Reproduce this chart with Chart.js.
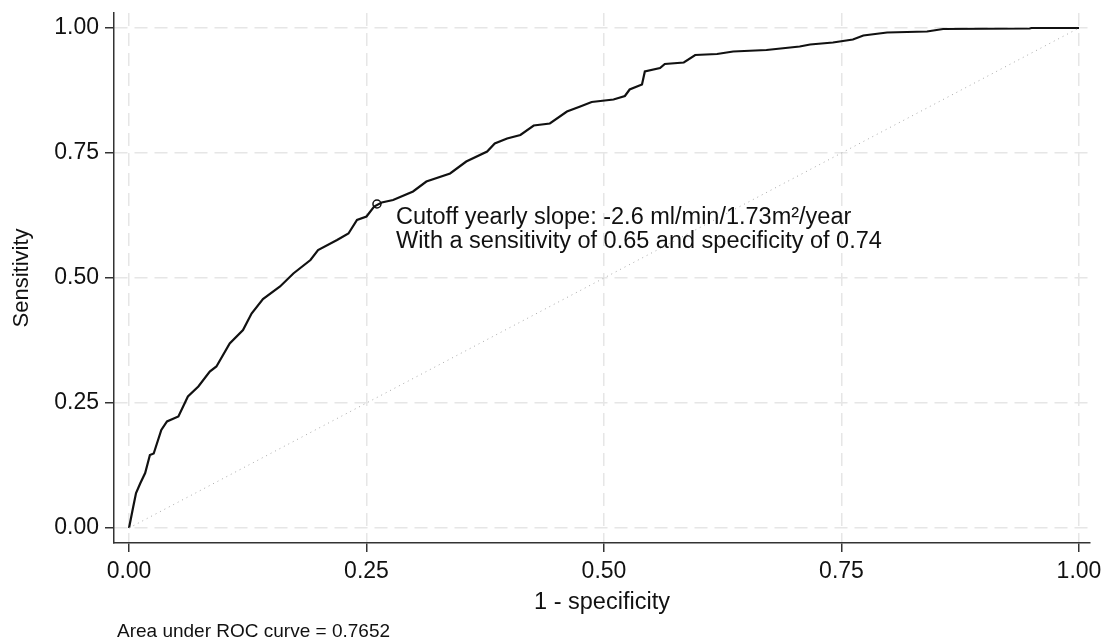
<!DOCTYPE html>
<html>
<head>
<meta charset="utf-8">
<script src="https://cdn.jsdelivr.net/npm/chart.js@4/dist/chart.umd.min.js"></script>
<style>
    html, body { margin: 0; padding: 0; background: #ffffff; }
    #wrap { width: 1111px; height: 644px; }
</style>
</head>
<body>
<div id="wrap"><canvas id="rocChart"></canvas></div>
<script>
// ROC curve (1 - specificity, sensitivity)
const fpr = [0, 0.0045, 0.0074, 0.012, 0.017, 0.022, 0.026, 0.034, 0.040, 0.052,
    0.062, 0.073, 0.085, 0.092, 0.106, 0.120, 0.129, 0.141, 0.159, 0.173,
    0.191, 0.199, 0.219, 0.231, 0.240, 0.250, 0.258, 0.266, 0.278, 0.299, 0.313,
    0.338, 0.355, 0.377, 0.385, 0.398, 0.412, 0.426, 0.443, 0.461, 0.475,
    0.487, 0.510, 0.522, 0.527, 0.540, 0.543, 0.559, 0.564, 0.584, 0.596,
    0.619, 0.636, 0.671, 0.706, 0.717, 0.741, 0.762, 0.773, 0.798, 0.840,
    0.857, 0.948, 0.950, 1];
const tpr = [0, 0.043, 0.070, 0.090, 0.110, 0.146, 0.149, 0.196, 0.213, 0.223,
    0.263, 0.283, 0.313, 0.323, 0.369, 0.396, 0.429, 0.458, 0.483, 0.509,
    0.536, 0.556, 0.576, 0.589, 0.616, 0.623, 0.643, 0.651, 0.656, 0.673, 0.693,
    0.709, 0.733, 0.753, 0.769, 0.779, 0.786, 0.805, 0.809, 0.833, 0.843,
    0.852, 0.857, 0.864, 0.877, 0.887, 0.913, 0.920, 0.928, 0.931, 0.946,
    0.948, 0.953, 0.956, 0.963, 0.967, 0.971, 0.977, 0.985, 0.991, 0.993,
    0.998, 0.999, 1, 1];

// reference line and cutoff point
const diagX = [0, 1];
const diagY = [0, 1];
const cutoffX = [0.261];
const cutoffY = [0.648];

const xTicks = [0, 0.25, 0.5, 0.75, 1];
const yTicks = [0, 0.25, 0.5, 0.75, 1];

const annotationLines = [
    'Cutoff yearly slope: -2.6 ml/min/1.73m\u00B2/year',
    'With a sensitivity of 0.65 and specificity of 0.74'
];
const footnote = 'Area under ROC curve = 0.7652';

const FONT = '"Liberation Sans", Arial, Helvetica, sans-serif';

function toPoints(xs, ys) {
    return xs.map((x, i) => ({ x: x, y: ys[i] }));
}

// text annotation and footnote
const textPlugin = {
    id: 'textPlugin',
    afterDatasetsDraw(chart) {
        const ctx = chart.ctx;
        const xs = chart.scales.x;
        const ys = chart.scales.y;
        ctx.save();
        ctx.fillStyle = '#111111';
        ctx.textAlign = 'left';
        ctx.textBaseline = 'middle';
        ctx.font = '23.5px ' + FONT;
        const tx = xs.getPixelForValue(0.281);
        ctx.fillText(annotationLines[0], tx, ys.getPixelForValue(0.621));
        ctx.fillText(annotationLines[1], tx, ys.getPixelForValue(0.573));
        ctx.font = '19px ' + FONT;
        ctx.fillText(footnote, 117, 632);
        ctx.restore();
    }
};

const axisCommon = {
    type: 'linear',
    grid: {
        color: '#e6e6e6',
        lineWidth: 1.5,
        drawTicks: true,
        tickLength: 9,
        tickColor: '#333333',
        tickWidth: 1.5,
        tickBorderDash: []
    },
    border: {
        display: true,
        color: '#333333',
        width: 1.5,
        dash: [13, 7]
    }
};

new Chart(document.getElementById('rocChart'), {
    type: 'scatter',
    data: {
        datasets: [
            {
                label: 'Reference',
                data: toPoints(diagX, diagY),
                showLine: true,
                borderColor: '#a8a8a8',
                borderWidth: 1,
                borderDash: [1, 4],
                pointRadius: 0
            },
            {
                label: 'ROC',
                data: toPoints(fpr, tpr),
                showLine: true,
                borderColor: '#111111',
                borderWidth: 2.2,
                pointRadius: 0,
                tension: 0
            },
            {
                label: 'Cutoff',
                data: toPoints(cutoffX, cutoffY),
                showLine: false,
                pointRadius: 4,
                pointStyle: 'circle',
                pointBackgroundColor: 'rgba(0,0,0,0)',
                pointBorderColor: '#111111',
                pointBorderWidth: 1.5
            }
        ]
    },
    options: {
        responsive: true,
        maintainAspectRatio: false,
        animation: false,
        layout: { padding: { top: 13, right: 21, left: 0, bottom: 0 } },
        plugins: {
            legend: { display: false },
            tooltip: { enabled: false }
        },
        scales: {
            x: {
                ...axisCommon,
                min: -0.0158,
                max: 1.0116,
                afterBuildTicks: (scale) => { scale.ticks = xTicks.map(v => ({ value: v })); },
                afterFit: (scale) => {
                    scale.height = 101;
                    scale.paddingLeft = 0;
                    scale.paddingRight = 0;
                },
                ticks: {
                    color: '#111111',
                    padding: 6,
                    maxRotation: 0,
                    font: { family: FONT, size: 23 },
                    callback: (v) => Number(v).toFixed(2)
                },
                title: {
                    display: true,
                    text: '1 - specificity',
                    color: '#111111',
                    font: { family: FONT, size: 23.5 },
                    padding: { top: 0, bottom: 27 }
                }
            },
            y: {
                ...axisCommon,
                min: -0.03,
                max: 1.03,
                afterBuildTicks: (scale) => { scale.ticks = yTicks.map(v => ({ value: v })); },
                afterFit: (scale) => {
                    scale.width = 114;
                    scale.paddingTop = 0;
                    scale.paddingBottom = 0;
                },
                ticks: {
                    color: '#111111',
                    padding: 6,
                    font: { family: FONT, size: 23 },
                    callback: (v) => Number(v).toFixed(2)
                },
                title: {
                    display: true,
                    text: 'Sensitivity',
                    color: '#111111',
                    font: { family: FONT, size: 22 },
                    padding: { top: 9, bottom: 0 }
                }
            }
        }
    },
    plugins: [textPlugin]
});
</script>
</body>
</html>
